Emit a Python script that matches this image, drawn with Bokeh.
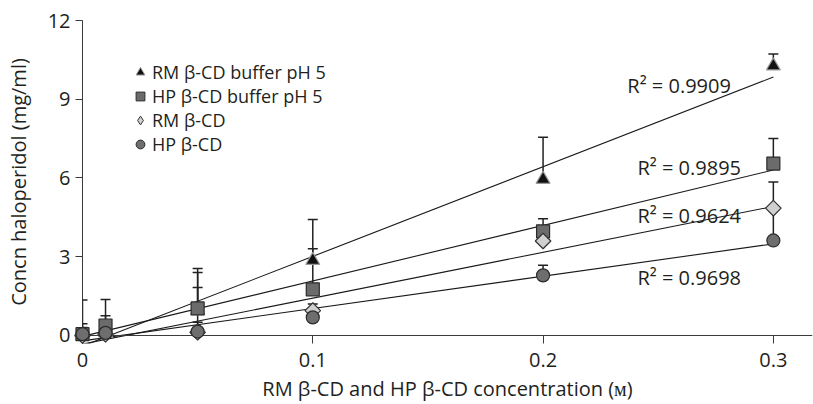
import numpy as np
from bokeh.plotting import figure
from bokeh.models import (ColumnDataSource, Whisker, TeeHead, Span, Legend, LegendItem,
                          FixedTicker, Range1d)
from bokeh.core.properties import value
from bokeh.embed import file_html
from bokeh.resources import INLINE

# ---- data ----
conc = [0.0, 0.01, 0.05, 0.1, 0.2, 0.3]

rm_buffer = [0.0, 0.10, 0.95, 2.86, 5.95, 10.27]
rm_buffer_top = [1.35, 0.75, 2.55, 4.42, 7.55, 10.72]

hp_buffer = [0.05, 0.38, 1.03, 1.76, 3.97, 6.55]
hp_buffer_top = [0.45, 1.37, 2.40, 3.30, 4.45, 7.50]

rm_plain = [0.0, 0.05, 0.12, 0.95, 3.60, 4.85]
rm_plain_top = [0.20, 0.20, 1.83, 1.20, 3.80, 5.85]

hp_plain = [0.05, 0.10, 0.15, 0.69, 2.29, 3.62]
hp_plain_top = [0.30, 0.30, 0.50, 0.90, 2.68, 4.80]

series_names = ["RM \u03b2-CD buffer pH 5", "HP \u03b2-CD buffer pH 5",
                "RM \u03b2-CD", "HP \u03b2-CD"]
r2_labels = ["R\u00b2 = 0.9909", "R\u00b2 = 0.9895", "R\u00b2 = 0.9624", "R\u00b2 = 0.9698"]
r2_x = [0.2366, 0.241, 0.241, 0.241]
r2_y = [9.52, 6.40, 4.57, 2.21]

x_ticks = [0, 0.1, 0.2, 0.3]
x_tick_labels = ["0", "0.1", "0.2", "0.3"]
y_ticks = [0, 3, 6, 9, 12]

FONT = "Open Sans"
FS = "20px"
TXT = "#231f20"
AX = "#3a3a3a"

p = figure(width=813, height=404, output_backend="svg", toolbar_location=None,
           x_range=Range1d(0.0, 0.317), y_range=Range1d(-0.305, 12.0),
           min_border_left=82, min_border_right=1, min_border_top=20,
           min_border_bottom=61)
p.outline_line_color = None
p.grid.visible = False
p.background_fill_color = "white"

yax = p.yaxis[0]
yax.ticker = FixedTicker(ticks=y_ticks)
yax.minor_tick_line_color = None
yax.major_tick_out = 7
yax.major_tick_in = 0
yax.major_label_standoff = 5
yax.axis_line_color = AX
yax.major_tick_line_color = AX
yax.major_label_text_font = FONT
yax.major_label_text_font_size = FS
yax.major_label_text_color = TXT
yax.axis_label = "Concn haloperidol (mg/ml)"
yax.axis_label_text_font = FONT
yax.axis_label_text_font_size = FS
yax.axis_label_text_font_style = "normal"
yax.axis_label_text_color = TXT
yax.axis_label_standoff = 13

xax = p.xaxis[0]
xax.ticker = FixedTicker(ticks=x_ticks)
xax.major_label_overrides = {t: l for t, l in zip(x_ticks, x_tick_labels)}
xax.minor_tick_line_color = None
xax.axis_line_color = None
xax.major_tick_in = 8
xax.major_tick_out = 0
xax.major_tick_line_color = AX
xax.major_label_standoff = 9
xax.major_label_text_font = FONT
xax.major_label_text_font_size = FS
xax.major_label_text_color = TXT
xax.axis_label = "RM \u03b2-CD and HP \u03b2-CD concentration (\u1d0d)"
xax.axis_label_text_font = FONT
xax.axis_label_text_font_size = FS
xax.axis_label_text_font_style = "normal"
xax.axis_label_text_color = TXT
xax.axis_label_standoff = 5

# x axis line at y = 0
p.add_layout(Span(location=0, dimension="width", line_color=AX, line_width=1))

all_y = [rm_buffer, hp_buffer, rm_plain, hp_plain]
all_top = [rm_buffer_top, hp_buffer_top, rm_plain_top, hp_plain_top]
markers = ["triangle", "square", "square", "circle"]
legend_markers = ["triangle", "square", "diamond", "circle"]
legend_sizes = [10, 9, 14, 9]
angles = [0, 0, np.pi / 4, 0]
sizes = [14, 13, 11, 13]
fills = ["#111111", "#6b6b6b", "#d0d0d0", "#6e6e6e"]
outlines = ["#9a9a9a", "#2b2b2b", "#333333", "#2b2b2b"]

# regression lines
xfit = np.array([0.0, 0.3])
for ys in all_y:
    k, b = np.polyfit(conc, ys, 1)
    p.line(xfit, k * xfit + b, line_color="#1a1a1a", line_width=1.1)

# small legend-swatch renderers (fully covered by the larger markers drawn on top)
legend_renderers = []
for ys, m, ls, f, o in zip(all_y, legend_markers, legend_sizes, fills, outlines):
    r = p.scatter(conc, ys, marker=m, size=ls, fill_color=f, line_color=o, line_width=1)
    legend_renderers.append(r)

# error bars (upper only)
for ys, tops in zip(all_y, all_top):
    src = ColumnDataSource(dict(x=conc, lo=ys, hi=tops))
    p.add_layout(Whisker(source=src, base="x", lower="lo", upper="hi", level="annotation",
                         line_color="#222222", line_width=1.5,
                         lower_head=None,
                         upper_head=TeeHead(size=10, line_color="#222222", line_width=1.5)))

# markers (overlay level so points on the y axis are not clipped)
for ys, m, a, s, f, o in zip(all_y, markers, angles, sizes, fills, outlines):
    p.scatter(conc, ys, marker=m, angle=a, size=s, fill_color=f, line_color=o,
              line_width=1.2, level="overlay")

# R^2 labels
p.text(x=r2_x, y=r2_y, text=r2_labels, text_font=value(FONT), text_font_size=FS,
       text_color=TXT, text_baseline="middle", text_align="left")

legend = Legend(items=[LegendItem(label=n, renderers=[r])
                       for n, r in zip(series_names, legend_renderers)],
                location=(47, 187), padding=0, margin=0, spacing=0,
                glyph_width=22, glyph_height=24, label_standoff=1,
                label_text_font=FONT, label_text_font_size="18px", label_text_color=TXT,
                border_line_color=None, background_fill_alpha=0)
p.add_layout(legend)

open("out.html", "w").write(file_html(p, INLINE))
